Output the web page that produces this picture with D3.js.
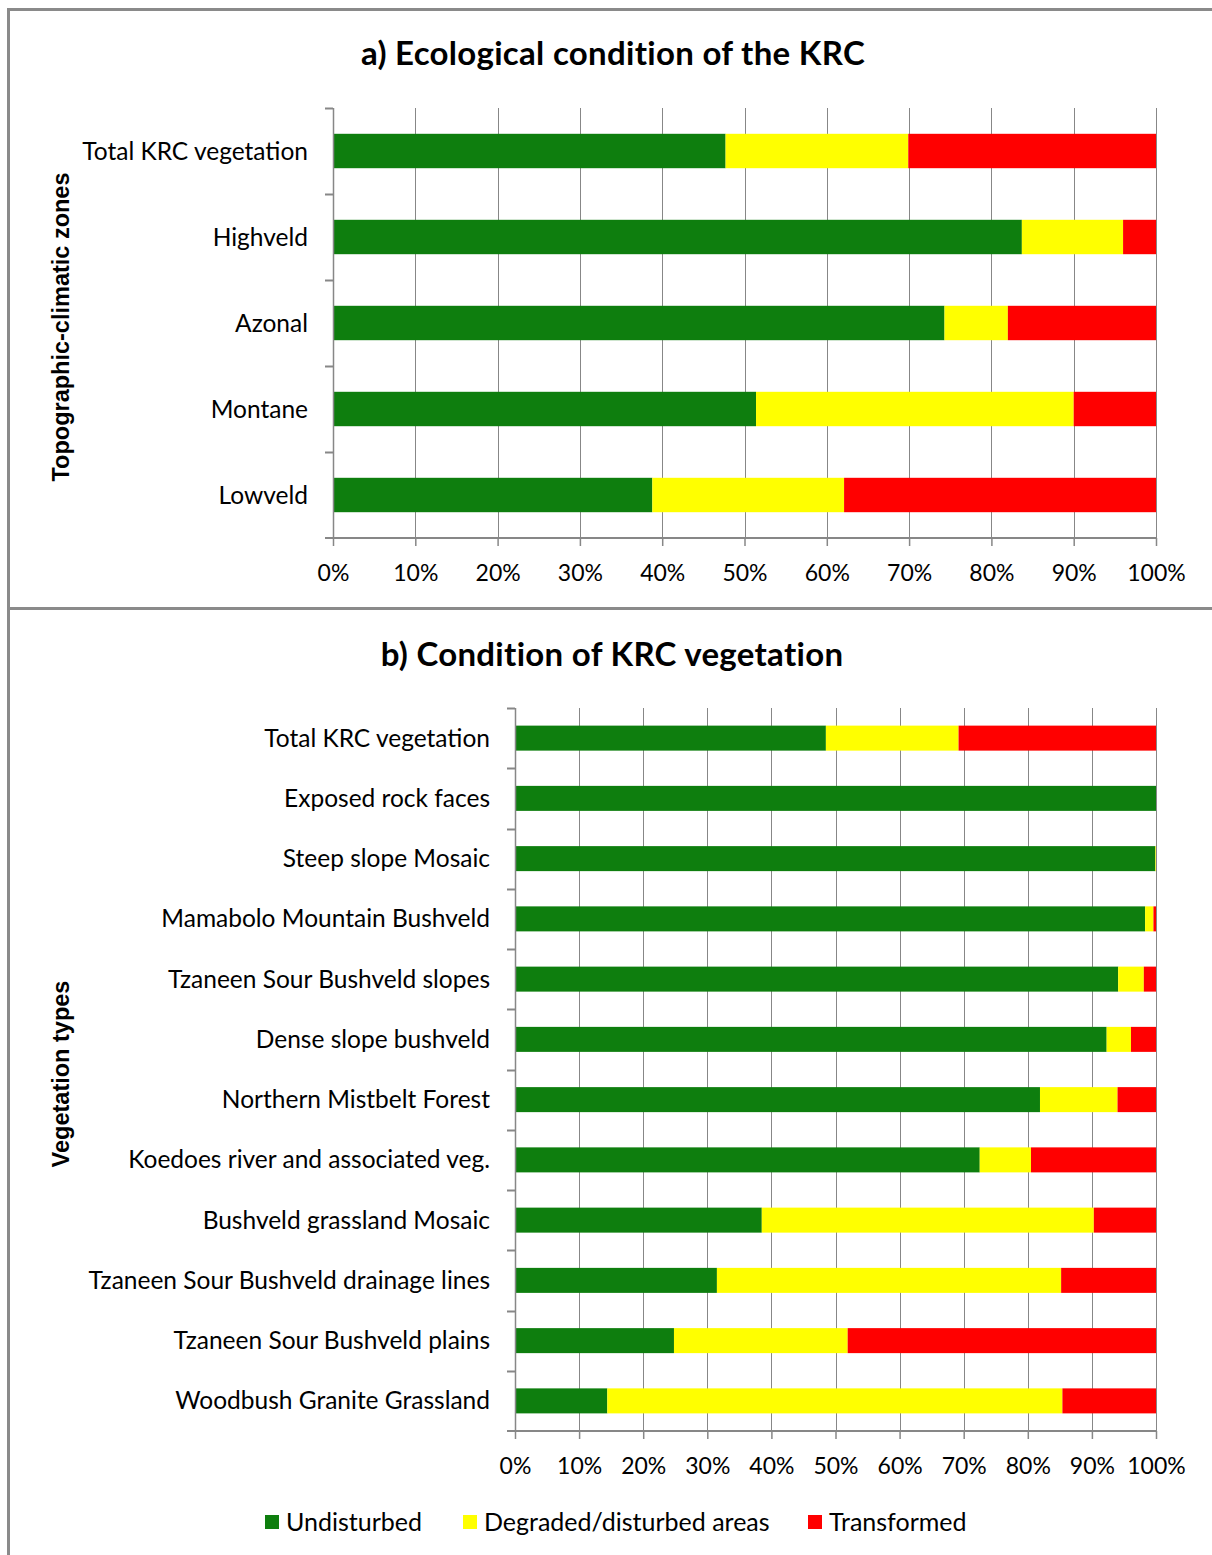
<!DOCTYPE html>
<html>
<head>
<meta charset="utf-8">
<script src="https://cdn.jsdelivr.net/npm/d3@7/dist/d3.min.js"></script>
<style>
  body { margin: 0; background: #fff; }
  svg text { font-family: Lato, "Open Sans", sans-serif; fill: #000; }
</style>
</head>
<body>
<div id="chart"></div>
<script>
// series
var seriesNames = ["Undisturbed", "Degraded/disturbed areas", "Transformed"];
var seriesKeys = ["undisturbed", "degraded", "transformed"];

// a) topographic-climatic zones
var zoneCats = ["Total KRC vegetation", "Highveld", "Azonal", "Montane", "Lowveld"];
var zoneUndisturbed = [47.7, 83.7, 74.3, 51.4, 38.8];
var zoneDegraded = [22.2, 12.3, 7.7, 38.6, 23.3];
var zoneTransformed = [30.1, 4.0, 18.0, 10.0, 37.9];

// b) vegetation types
var vegCats = ["Total KRC vegetation", "Exposed rock faces", "Steep slope Mosaic",
  "Mamabolo Mountain Bushveld", "Tzaneen Sour Bushveld slopes", "Dense slope bushveld",
  "Northern Mistbelt Forest", "Koedoes river and associated veg.", "Bushveld grassland Mosaic",
  "Tzaneen Sour Bushveld drainage lines", "Tzaneen Sour Bushveld plains", "Woodbush Granite Grassland"];
var vegUndisturbed = [48.5, 100, 99.9, 98.3, 94.1, 92.3, 81.9, 72.5, 38.5, 31.5, 24.8, 14.4];
var vegDegraded = [20.7, 0, 0.1, 1.3, 4.0, 3.8, 12.1, 8.0, 51.8, 53.7, 27.1, 71.0];
var vegTransformed = [30.8, 0, 0, 0.4, 1.9, 3.9, 6.0, 19.5, 9.7, 14.8, 48.1, 14.6];

var xTicks = [0, 10, 20, 30, 40, 50, 60, 70, 80, 90, 100];

var colors = {undisturbed: "#0e7e0e", degraded: "#ffff00", transformed: "#ff0000"};
var gridColor = "#878787";
var frameColor = "#8a8a8a";

var svg = d3.select("#chart").append("svg")
  .attr("width", 1212).attr("height", 1555);

// outer frame
svg.append("line").attr("x1", 8).attr("x2", 1212).attr("y1", 9.5).attr("y2", 9.5)
  .attr("stroke", frameColor).attr("stroke-width", 3);
svg.append("line").attr("x1", 8.5).attr("x2", 8.5).attr("y1", 8).attr("y2", 1555)
  .attr("stroke", frameColor).attr("stroke-width", 3);
svg.append("line").attr("x1", 8).attr("x2", 1212).attr("y1", 608.5).attr("y2", 608.5)
  .attr("stroke", frameColor).attr("stroke-width", 3);

function buildRows(cats, a, b, c) {
  return cats.map(function (d, i) {
    return {cat: d, undisturbed: a[i], degraded: b[i], transformed: c[i]};
  });
}

function drawPanel(opts) {
  var rows = buildRows(opts.cats, opts.a, opts.b, opts.c);
  var g = svg.append("g");

  var x = d3.scaleLinear().domain([0, 100]).range([opts.left, opts.right]);
  var y = d3.scaleBand().domain(opts.cats)
    .range([opts.top, opts.bottom])
    .paddingInner(opts.pad).paddingOuter(opts.pad / 2);

  // vertical gridlines
  g.append("g").selectAll("line").data(xTicks).join("line")
    .attr("x1", function (d) { return Math.round(x(d)) + 0.5; })
    .attr("x2", function (d) { return Math.round(x(d)) + 0.5; })
    .attr("y1", opts.top).attr("y2", opts.bottom)
    .attr("stroke", gridColor).attr("stroke-width", 1);

  // stacked bars
  var stack = d3.stack().keys(seriesKeys)(rows);
  g.append("g").selectAll("g").data(stack).join("g")
    .attr("fill", function (s) { return colors[s.key]; })
    .selectAll("rect").data(function (s) { return s; }).join("rect")
    .attr("x", function (d) { return x(d[0]); })
    .attr("width", function (d) { return Math.max(0, x(d[1]) - x(d[0])); })
    .attr("y", function (d) { return y(d.data.cat); })
    .attr("height", y.bandwidth());

  // y axis with ticks between categories
  var step = y.step();
  var yAx = g.append("g");
  yAx.append("line").attr("x1", opts.left + 0.5).attr("x2", opts.left + 0.5)
    .attr("y1", opts.top).attr("y2", opts.bottom)
    .attr("stroke", gridColor).attr("stroke-width", 1.5);
  yAx.selectAll("line.tk").data(d3.range(opts.cats.length)).join("line")
    .attr("class", "tk")
    .attr("x1", opts.left - 8).attr("x2", opts.left)
    .attr("y1", function (i) { return Math.round(opts.top + i * step) + 0.5; })
    .attr("y2", function (i) { return Math.round(opts.top + i * step) + 0.5; })
    .attr("stroke", gridColor).attr("stroke-width", 2);
  yAx.selectAll("text").data(opts.cats).join("text")
    .attr("x", opts.left - 25)
    .attr("y", function (d) { return y(d) + y.bandwidth() / 2; })
    .attr("dy", "0.35em")
    .attr("text-anchor", "end")
    .style("font-size", "24.5px")
    .text(function (d) { return d; });

  // x axis
  var xAx = g.append("g").attr("transform", "translate(0," + opts.bottom + ")")
    .call(d3.axisBottom(x).tickValues(xTicks)
      .tickFormat(function (d) { return d + "%"; })
      .tickSize(8).tickSizeOuter(0));
  xAx.select(".domain").attr("stroke", gridColor).attr("stroke-width", 2)
    .attr("d", "M" + (opts.left - 8) + ",0H" + opts.right);
  xAx.selectAll(".tick line").attr("stroke", gridColor).attr("stroke-width", 1.5);
  xAx.selectAll(".tick text").attr("y", 35).attr("dy", "0.35em")
    .style("font-size", "23px").attr("fill", "#000");

  // title
  svg.append("text").attr("x", opts.titleX).attr("y", opts.titleY)
    .attr("text-anchor", "middle")
    .style("font-size", "33px").style("font-weight", "bold")
    .style("letter-spacing", "0.3px")
    .text(opts.title);

  // y axis title
  svg.append("text")
    .attr("transform", "translate(69," + opts.yTitleY + ") rotate(-90)")
    .attr("text-anchor", "middle")
    .style("font-family", "'Liberation Sans', Arial, sans-serif")
    .style("font-size", "23.5px").style("font-weight", "bold")
    .text(opts.yTitle);
}

drawPanel({
  cats: zoneCats, a: zoneUndisturbed, b: zoneDegraded, c: zoneTransformed,
  left: 333, right: 1156, top: 108, bottom: 538, pad: 0.6,
  title: "a) Ecological condition of the KRC", titleX: 613, titleY: 65,
  yTitle: "Topographic-climatic zones", yTitleY: 327
});

drawPanel({
  cats: vegCats, a: vegUndisturbed, b: vegDegraded, c: vegTransformed,
  left: 515, right: 1156, top: 708, bottom: 1431, pad: 0.585,
  title: "b) Condition of KRC vegetation", titleX: 612, titleY: 666,
  yTitle: "Vegetation types", yTitleY: 1074
});

// legend
var legendX = [265, 463, 808];
var legend = svg.append("g").selectAll("g").data(seriesNames).join("g")
  .attr("transform", function (d, i) { return "translate(" + legendX[i] + ",1515)"; });
legend.append("rect").attr("width", 14).attr("height", 14)
  .attr("fill", function (d, i) { return colors[seriesKeys[i]]; });
legend.append("text").attr("x", 21).attr("y", 7).attr("dy", "0.35em")
  .style("font-size", "25px")
  .text(function (d) { return d; });
</script>
</body>
</html>
